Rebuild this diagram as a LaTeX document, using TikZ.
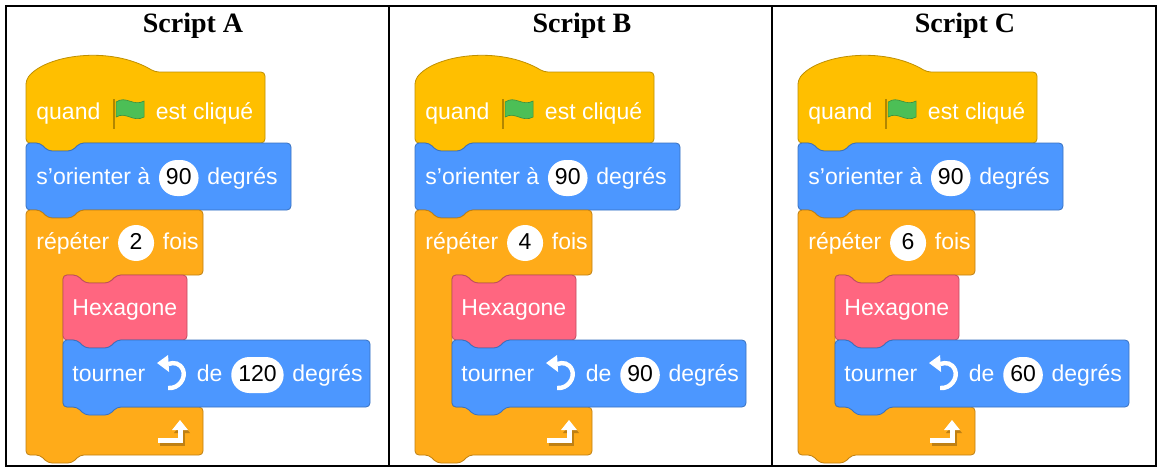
\documentclass[tikz,border=0pt]{standalone}
\usepackage{fontspec}
\setmainfont{Liberation Serif}
\newfontfamily\scr{Liberation Sans}
\usetikzlibrary{positioning,arrows.meta}
\definecolor{hatc}{HTML}{FFBF00}
\definecolor{motc}{HTML}{4C97FF}
\definecolor{ctlc}{HTML}{FFAB19}
\definecolor{myc}{HTML}{FF6680}
\definecolor{flagc}{HTML}{4CBF56}
\tikzset{
  blk/.style={draw=#1!75!black, fill=#1, line width=0.4pt, rounded corners=2pt},
  lbl/.style={text=white, font=\scr\fontsize{11.5}{13}\selectfont, inner sep=0pt, anchor=west,
    text height=8.5pt, text depth=2.5pt},
  pill/.style={fill=white, rounded corners=9pt, minimum height=18pt, minimum width=18pt,
    inner xsep=3.5pt, inner ysep=0pt, text=black, font=\scr\fontsize{11.5}{13}\selectfont,
    text height=8.5pt, text depth=2.5pt},
  icon/.style={inner sep=0pt, minimum width=17pt, minimum height=12pt}
}
% block with notch on top and tab below
\newcommand\blkpath[4]{(#1,#2) -- ++(14,0) -- ++(8,8) -- ++(24,0) -- ++(8,-8) -- (#1+#3,#2)
  -- (#1+#3,#2+#4) -- (#1+54,#2+#4) -- ++(-8,8) -- ++(-24,0) -- ++(-8,-8) -- (#1,#2+#4) -- cycle}
% one script column
\newcommand\scriptcol[5]{%
\begin{scope}[shift={(#1,0)}]
  \node[font=\bfseries\fontsize{14}{16}\selectfont] (t#2) at (193,26) {Script #2};
  % hat block
  \filldraw[blk=hatc] (26,143) -- (26,80) .. controls (45,55) and (110,45) .. (155,72) -- (265,72)
    -- (265,143) -- (80,143) -- ++(-8,8) -- ++(-24,0) -- ++(-8,-8) -- cycle;
  \filldraw[blk=motc] \blkpath{26}{143}{265}{67};
  % repeat block
  \filldraw[blk=ctlc] (26,210) -- (40,210) -- (48,218) -- (72,218) -- (80,210) -- (203,210)
    -- (203,275) -- (117,275) -- (109,283) -- (85,283) -- (77,275) -- (63,275) -- (63,407)
    -- (203,407) -- (203,455) -- (80,455) -- (72,463) -- (48,463) -- (40,455) -- (26,455) -- cycle;
  \filldraw[blk=myc] \blkpath{63}{275}{124}{65};
  \filldraw[blk=motc] \blkpath{63}{340}{#5}{67};
  % texts
  \node[lbl] (q#2) at (36,113) {quand};
  \node[icon, right=5pt of q#2] (f#2) {};
  \node[lbl, right=5pt of f#2] (e#2) {est cliqué};
  \begin{scope}[shift={(f#2.center)}]
    \draw[hatc!70!black, line width=1pt] (-14,-14) -- (-14,16);
    \filldraw[fill=flagc, draw=flagc!75!black, line width=0.3pt] (-12,-11) .. controls (-2,-18) and (5,-6) .. (16,-12)
      -- (16,4) .. controls (5,10) and (-2,-2) .. (-12,4) -- cycle;
  \end{scope}
  \node[lbl] (o#2) at (36,178) {s’orienter à};
  \node[pill, right=4pt of o#2] (p#2) {90};
  \node[lbl, right=4pt of p#2] (d#2) {degrés};
  \node[lbl] (r#2) at (36,243) {répéter};
  \node[pill, right=4pt of r#2] (n#2) {#3};
  \node[lbl, right=4pt of n#2] (fo#2) {fois};
  \node[lbl] (h#2) at (72,309) {Hexagone};
  \node[lbl] (u#2) at (72,375) {tourner};
  \node[icon, right=4pt of u#2] (i#2) {};
  \node[lbl, right=4pt of i#2] (de#2) {de};
  \node[pill, right=4pt of de#2] (a#2) {#4};
  \node[lbl, right=4pt of a#2] (g#2) {degrés};
  \begin{scope}[shift={(i#2.center)}]
    \draw[white, line width=2.2pt] (-3,13) .. controls (8,14) and (15,3) .. (12,-5)
      .. controls (9,-12) and (3,-13) .. (-3,-11);
    \fill[white] (-14,-12) -- (-3,-20) -- (-2,-3) -- cycle;
  \end{scope}
  % loop arrow
  \draw[ctlc!75!black, line width=2.5pt] (160,443) -- (182,443) -- (182,433);
  \fill[ctlc!75!black] (174,433) -- (190,433) -- (182,423) -- cycle;
  \draw[white, line width=2.5pt] (158,440) -- (180,440) -- (180,430);
  \fill[white] (172,430) -- (188,430) -- (180,420) -- cycle;
\end{scope}}
\begin{document}
\begin{tikzpicture}[x=0.5pt, y=-0.5pt]
  \useasboundingbox (0,0) rectangle (1162,471);
  \scriptcol{0}{A}{2}{120}{307}
  \scriptcol{389}{B}{4}{90}{294}
  \scriptcol{772}{C}{6}{60}{294}
  \draw[line width=1pt] (6,6) rectangle (1156,466);
  \draw[line width=1pt] (389,6) -- (389,466);
  \draw[line width=0.6pt] (772,6) -- (772,466);
\end{tikzpicture}
\end{document}
